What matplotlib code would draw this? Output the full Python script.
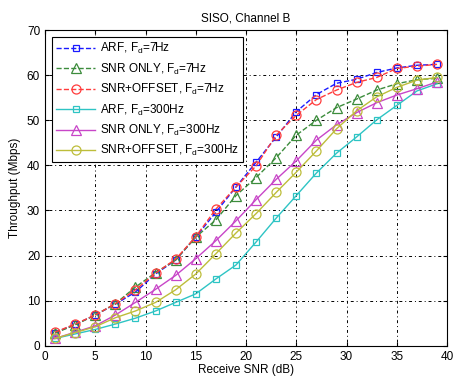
import numpy as np
import matplotlib
matplotlib.use("Agg")
import matplotlib.pyplot as plt
from matplotlib import rc

rc('font', family='Liberation Sans', size=8.5)
rc('mathtext', fontset='custom', rm='Liberation Sans', it='Liberation Sans')

# data
snr = [1, 3, 5, 7, 9, 11, 13, 15, 17, 19, 21, 23, 25, 27, 29, 31, 33, 35, 37, 39]

arf_7 = [2.9, 4.7, 6.8, 9.2, 11.9, 15.9, 19.0, 24.1, 29.6, 35.2,
         40.7, 46.3, 51.9, 55.7, 58.2, 59.1, 60.6, 61.6, 62.2, 62.4]
snr_only_7 = [2.8, 4.6, 6.8, 9.3, 13.0, 16.2, 19.0, 24.1, 27.9, 33.3,
              37.3, 41.7, 46.7, 50.0, 52.8, 54.7, 56.7, 58.1, 59.0, 59.3]
snr_off_7 = [3.0, 4.8, 6.8, 9.3, 12.4, 16.1, 19.2, 24.2, 30.3, 35.2,
             39.9, 46.7, 51.1, 54.6, 56.7, 58.4, 59.5, 61.5, 62.0, 62.4]
arf_300 = [1.6, 2.6, 3.6, 4.8, 6.1, 7.7, 9.6, 11.5, 14.8, 17.9,
           23.0, 28.3, 33.3, 38.3, 42.7, 46.3, 50.1, 53.3, 56.5, 58.1]
snr_only_300 = [1.6, 3.0, 4.4, 6.8, 9.6, 12.5, 15.6, 19.3, 23.3, 27.7,
                32.4, 36.9, 41.0, 45.6, 49.0, 51.7, 53.9, 55.6, 57.0, 58.5]
snr_off_300 = [1.6, 2.9, 4.2, 6.2, 7.7, 9.6, 12.4, 15.9, 20.4, 25.0,
               29.3, 34.0, 38.5, 43.2, 48.1, 52.1, 55.2, 57.3, 58.9, 59.5]

series = [
    (arf_7, 'ARF, F$_\\mathregular{d}$=7Hz', '#1a1aff', 's', '--'),
    (snr_only_7, 'SNR ONLY, F$_\\mathregular{d}$=7Hz', '#3c8c3c', '^', '--'),
    (snr_off_7, 'SNR+OFFSET, F$_\\mathregular{d}$=7Hz', '#ff3c3c', 'o', '--'),
    (arf_300, 'ARF, F$_\\mathregular{d}$=300Hz', '#2ec4c4', 's', '-'),
    (snr_only_300, 'SNR ONLY, F$_\\mathregular{d}$=300Hz', '#c846c8', '^', '-'),
    (snr_off_300, 'SNR+OFFSET, F$_\\mathregular{d}$=300Hz', '#bdbd3a', 'o', '-'),
]

fig = plt.figure(figsize=(4.53, 3.81), dpi=100)
ax = fig.add_axes([0.0993, 0.0927, 0.8877, 0.8283])

for vals, lab, col, mk, ls in series:
    ms = 5 if mk == 's' else 6.5
    ax.plot(snr, vals, linestyle=ls, color=col, lw=1.0, marker=mk,
            markersize=ms, markerfacecolor='none', markeredgecolor=col,
            markeredgewidth=0.9, label=lab)

ax.set_xlim(0, 40)
ax.set_ylim(0, 70)
ax.set_xticks(np.arange(0, 41, 5))
ax.set_yticks(np.arange(0, 71, 10))
ax.grid(True, color='black', linestyle=(0, (1, 3, 3, 3)), lw=0.7)
ax.tick_params(direction='in', top=True, right=True, length=3, labelsize=8.5)
for s in ax.spines.values():
    s.set_linewidth(0.8)

ax.set_title('SISO, Channel B', fontsize=8.5, pad=6)
ax.set_xlabel('Receive SNR (dB)', fontsize=8.5, labelpad=1)
ax.set_ylabel('Throughput (Mbps)', fontsize=8.5, labelpad=4)

leg = ax.legend(loc='upper left', bbox_to_anchor=(0.018, 0.978), fontsize=8.5,
                fancybox=False, framealpha=1, edgecolor='black',
                handlelength=3.3, borderpad=0.35, labelspacing=0.45,
                handletextpad=0.4, borderaxespad=0)
leg.get_frame().set_linewidth(0.8)

fig.savefig('out.png', dpi=100)
